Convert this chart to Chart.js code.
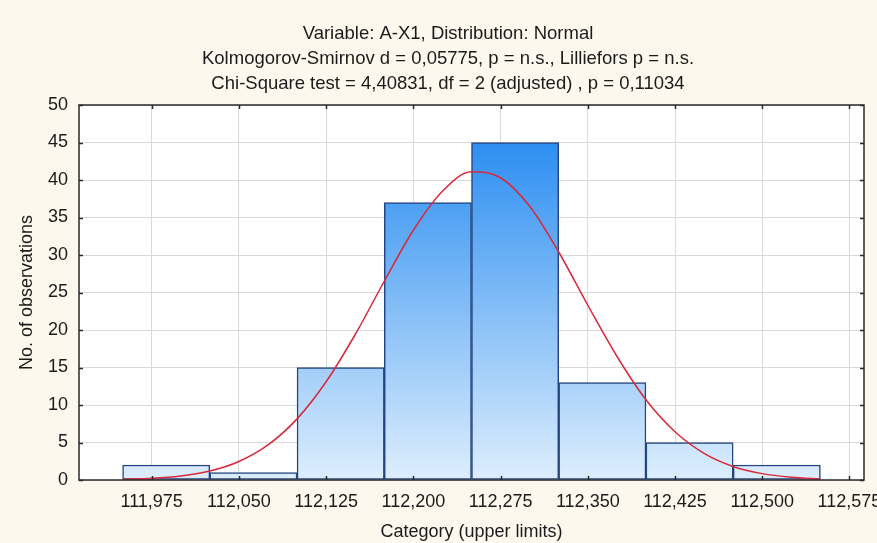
<!DOCTYPE html>
<html><head><meta charset="utf-8">
<script src="https://cdn.jsdelivr.net/npm/chart.js@4.4.1/dist/chart.umd.min.js"></script>
<style>html,body{margin:0;padding:0;background:#FCF8EE;} canvas{display:block;}</style>
</head><body>
<canvas id="c" width="877" height="543"></canvas>
<script>
const titleLines = [
  'Variable: A-X1, Distribution: Normal',
  'Kolmogorov-Smirnov d = 0,05775, p = n.s., Lilliefors p = n.s.',
  'Chi-Square test = 4,40831, df = 2 (adjusted) , p = 0,11034'
];
const xTitle = 'Category (upper limits)';
const yTitle = 'No. of observations';

// histogram bins (centers) and counts
const binCenters = [111.9875, 112.0625, 112.1375, 112.2125, 112.2875, 112.3625, 112.4375, 112.5125];
const binCounts  = [2, 1, 15, 37, 45, 13, 5, 2];

// fitted normal curve
const curveX = [111.95, 111.975, 112.0, 112.025, 112.05, 112.075, 112.1, 112.125, 112.15, 112.175, 112.2, 112.225, 112.25,
                112.275, 112.3, 112.325, 112.35, 112.375, 112.4, 112.425, 112.45, 112.475, 112.5, 112.525, 112.55];
const curveY = [0.08, 0.22, 0.54, 1.19, 2.46, 4.67, 8.15, 13.1, 19.4, 26.5, 33.3, 38.5, 41.1,
                40.3, 36.5, 30.4, 23.3, 16.5, 10.7, 6.44, 3.56, 1.81, 0.85, 0.37, 0.15];

const xTickValues = [111.975, 112.05, 112.125, 112.2, 112.275, 112.35, 112.425, 112.5, 112.575];
const xTickLabels = ['111,975', '112,050', '112,125', '112,200', '112,275', '112,350', '112,425', '112,500', '112,575'];
const yTickValues = [0, 5, 10, 15, 20, 25, 30, 35, 40, 45, 50];

const FONT = 'Liberation Sans, Arial, sans-serif';
const TXT = '#1b1b1b';

const framePlugin = {
  id: 'frame',
  beforeDraw(chart) {
    const {ctx, chartArea: a, width, height} = chart;
    ctx.save();
    ctx.fillStyle = '#FCF8EE';
    ctx.fillRect(0, 0, width, height);
    ctx.fillStyle = '#FFFFFF';
    ctx.fillRect(a.left, a.top, a.right - a.left, a.bottom - a.top);
    ctx.restore();
  },
  afterDraw(chart) {
    const {ctx, chartArea: a, scales} = chart;
    ctx.save();
    ctx.strokeStyle = '#2a2a2a';
    ctx.lineWidth = 1.5;
    ctx.strokeRect(a.left, a.top, a.right - a.left, a.bottom - a.top);
    ctx.beginPath();
    const t = 4;
    xTickValues.forEach(v => {
      const px = Math.round(scales.x.getPixelForValue(v)) + 0.5;
      ctx.moveTo(px, a.bottom); ctx.lineTo(px, a.bottom - t);
      ctx.moveTo(px, a.top); ctx.lineTo(px, a.top + t);
    });
    yTickValues.forEach(v => {
      const py = Math.round(scales.y.getPixelForValue(v)) + 0.5;
      ctx.moveTo(a.left, py); ctx.lineTo(a.left + t, py);
      ctx.moveTo(a.right, py); ctx.lineTo(a.right - t, py);
    });
    ctx.stroke();
    ctx.restore();
  }
};

function barGradient(context) {
  const chart = context.chart;
  const a = chart.chartArea;
  if (!a) return '#6fb0f5';
  const g = chart.ctx.createLinearGradient(0, a.top, 0, a.bottom);
  g.addColorStop(0, '#1A84F0');
  g.addColorStop(1, '#DDEEFD');
  return g;
}

new Chart(document.getElementById('c'), {
  type: 'bar',
  data: {
    datasets: [
      {
        type: 'line',
        data: curveX.map((x, i) => ({x: x, y: curveY[i]})),
        borderColor: '#D9283A',
        borderWidth: 1.5,
        pointRadius: 0,
        cubicInterpolationMode: 'monotone',
        fill: false,
        order: 0
      },
      {
        type: 'bar',
        data: binCenters.map((x, i) => ({x: x, y: binCounts[i]})),
        backgroundColor: barGradient,
        borderColor: '#24457F',
        borderWidth: 1.5,
        borderSkipped: false,
        barPercentage: 1,
        categoryPercentage: 1,
        order: 1
      }
    ]
  },
  options: {
    responsive: false,
    animation: false,
    devicePixelRatio: 1,
    layout: {padding: {left: 32, right: 13, top: 0, bottom: 0}},
    plugins: {
      legend: {display: false},
      tooltip: {enabled: false},
      title: {
        display: true,
        text: titleLines,
        color: TXT,
        font: {family: FONT, size: 18.5, weight: 'normal', lineHeight: 25 / 18.5},
        padding: {top: 21, bottom: 9}
      }
    },
    scales: {
      x: {
        type: 'linear',
        min: 111.9125,
        max: 112.5875,
        offset: false,
        grid: {color: '#D9D9D9', lineWidth: 1, drawTicks: false, offset: false},
        border: {display: false},
        ticks: {
          padding: 11,
          color: TXT,
          font: {family: FONT, size: 18},
          autoSkip: false,
          maxRotation: 0,
          callback: (v) => {
            const i = xTickValues.findIndex(t => Math.abs(t - v) < 1e-6);
            return i >= 0 ? xTickLabels[i] : '';
          }
        },
        afterBuildTicks: s => { s.ticks = xTickValues.map(v => ({value: v})); },
        afterFit: s => { s.height = 63; s.paddingLeft = 0; s.paddingRight = 0; },
        title: {display: true, text: xTitle, color: TXT, font: {family: FONT, size: 18}, padding: {top: 0, bottom: 0}}
      },
      y: {
        type: 'linear',
        min: 0,
        max: 50,
        grid: {color: '#D9D9D9', lineWidth: 1, drawTicks: false},
        border: {display: false},
        ticks: {padding: 11, color: TXT, font: {family: FONT, size: 18}},
        afterBuildTicks: s => { s.ticks = yTickValues.map(v => ({value: v})); },
        afterFit: s => { s.width = 47; s.paddingTop = 0; s.paddingBottom = 0; },
        title: {display: true, text: yTitle, color: TXT, font: {family: FONT, size: 18}, padding: {top: -16, bottom: 0}}
      }
    }
  },
  plugins: [framePlugin]
});
</script>
</body></html>
